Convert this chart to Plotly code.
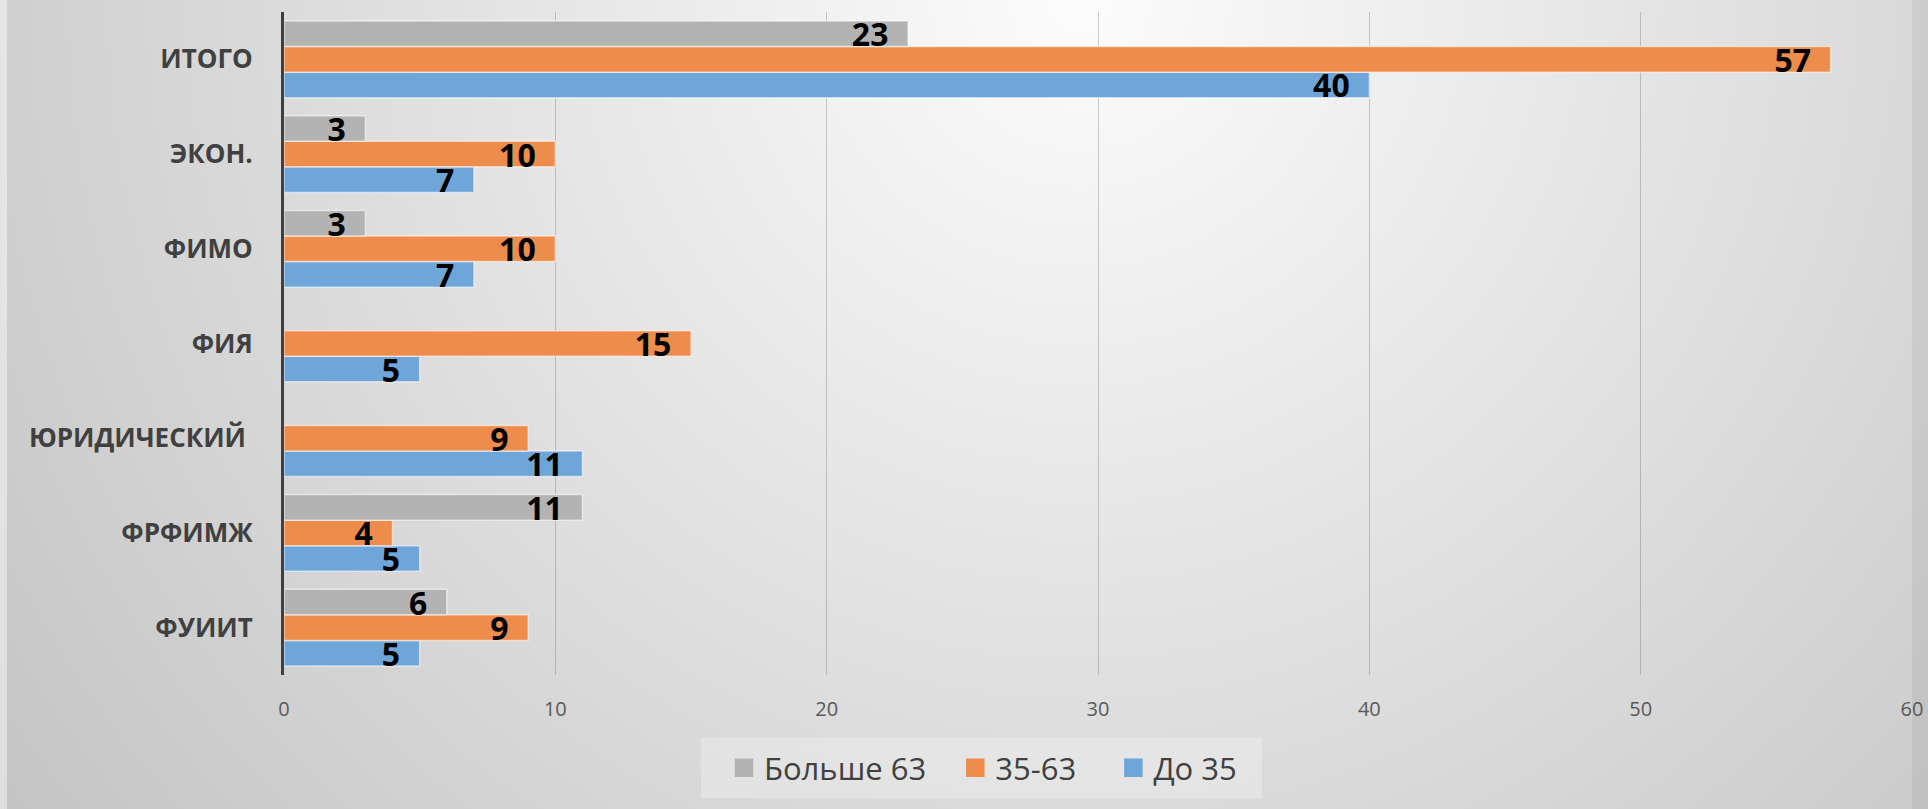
import base64
import plotly.graph_objects as go

# ---------------- data ----------------
categories = ["ИТОГО", "ЭКОН.", "ФИМО", "ФИЯ", "ЮРИДИЧЕСКИЙ\u00a0", "ФРФИМЖ", "ФУИИТ"]
over_63 = [23, 3, 3, None, None, 11, 6]
age_35_63 = [57, 10, 10, 15, 9, 4, 9]
under_35 = [40, 7, 7, 5, 11, 5, 5]
series_names = ["Больше 63", "35-63", "До 35"]
x_ticks = [0, 10, 20, 30, 40, 50, 60]

# ---------------- styles ----------------
colors = {"Больше 63": "#b3b3b3", "35-63": "#ed8c4b", "До 35": "#6fa6d9"}
W, H = 1928, 809
L, R, T, B = 284, 16, 12, 134
PW, PH = W - L - R, H - T - B
FONT = "Open Sans"

svg = f'''<svg xmlns="http://www.w3.org/2000/svg" width="{W}" height="{H}" viewBox="0 0 {W} {H}">
<defs><radialGradient id="g" gradientUnits="userSpaceOnUse" cx="1080" cy="0" r="1400">
<stop offset="0" stop-color="#fcfcfc"/><stop offset="1" stop-color="#c2c2c2"/></radialGradient></defs>
<rect width="{W}" height="{H}" fill="url(#g)"/>
<rect x="0" y="0" width="7" height="{H}" fill="#ffffff" fill-opacity="0.45"/>
<rect x="1912" y="0" width="16" height="{H}" fill="#000000" fill-opacity="0.05"/>
</svg>'''
bg_src = "data:image/svg+xml;base64," + base64.b64encode(svg.encode()).decode()


def labels(vals):
    return ["" if v is None else f"{v}\u00a0\u00a0" for v in vals]


def px_x(px):
    return (px - L) / PW


def px_y(py):
    return (H - B - py) / PH


fig = go.Figure()
# bottom-to-top within each group: До 35, 35-63, Больше 63
for name, vals in [("До 35", under_35), ("35-63", age_35_63), ("Больше 63", over_63)]:
    fig.add_trace(go.Bar(
        y=categories, x=vals, name=name, orientation="h",
        marker=dict(color=colors[name], line=dict(color="rgba(255,255,255,0.55)", width=1.5)),
        text=labels(vals), textposition="inside", insidetextanchor="end", textangle=0,
        textfont=dict(family=FONT, size=32, color="#000000", weight=700),
        constraintext="none", cliponaxis=False, showlegend=False, hoverinfo="x+y",
    ))

# legend entries
legend_labels = ["Больше 63\u00a0\u00a0\u00a0", "35-63\u00a0\u00a0\u00a0\u00a0", "До 35"]
for name, lab in zip(series_names, legend_labels):
    fig.add_trace(go.Scatter(
        x=[None], y=[None], mode="markers", name=lab,
        marker=dict(symbol="square", size=20, color=colors[name],
                    line=dict(color=colors[name], width=2.5)),
    ))

fig.update_layout(
    width=W, height=H,
    margin=dict(l=L, r=R, t=T, b=B, autoexpand=False),
    paper_bgcolor="#d9d9d9", plot_bgcolor="rgba(0,0,0,0)",
    barmode="group", bargap=0.19, bargroupgap=0,
    uniformtext=dict(minsize=32, mode="show"),
    font=dict(family=FONT, color="#404040"),
    showlegend=True,
    legend=dict(orientation="h", x=px_x(724), xanchor="left",
                y=px_y(768), yanchor="middle",
                bgcolor="rgba(0,0,0,0)", borderwidth=0,
                font=dict(family=FONT, size=31, color="#404040"),
                traceorder="normal", itemwidth=30),
    shapes=[dict(type="rect", xref="paper", yref="paper",
                 x0=px_x(701), x1=px_x(1262), y0=px_y(798), y1=px_y(738),
                 fillcolor="rgba(255,255,255,0.25)", line=dict(width=0), layer="below")],
    images=[dict(source=bg_src, xref="paper", yref="paper",
                 x=-L / PW, y=1 + T / PH, sizex=W / PW, sizey=H / PH,
                 xanchor="left", yanchor="top", sizing="stretch", layer="below")],
    xaxis=dict(range=[0, 60], tickvals=x_ticks, ticktext=[str(v) for v in x_ticks],
               showgrid=True, gridcolor="rgba(0,0,0,0.18)", gridwidth=1,
               zeroline=False, showline=False, ticks="",
               tickfont=dict(family=FONT, size=20, color="#595959"),
               ticklabelstandoff=20, fixedrange=True),
    yaxis=dict(categoryorder="array", categoryarray=list(reversed(categories)),
               showgrid=False, zeroline=False, showline=True,
               linecolor="#404040", linewidth=3, ticks="",
               tickfont=dict(family=FONT, size=26, color="#404040", weight=700),
               ticklabelstandoff=23, fixedrange=True),
)

fig.write_html("out.html", config={"displayModeBar": False},
               post_script="document.body.style.margin='0';document.body.style.overflow='hidden';")
